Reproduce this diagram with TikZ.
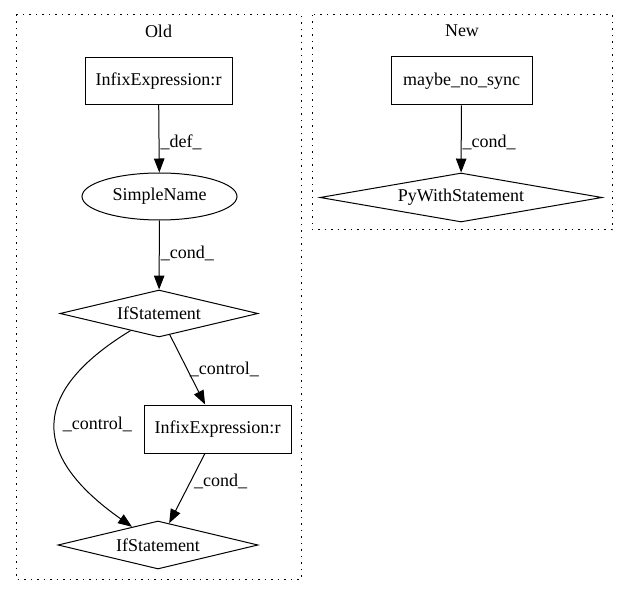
\documentclass[tikz,border=0pt]{standalone}
\usepackage{fontspec}
\setmainfont{Liberation Serif}
\usetikzlibrary{shapes.geometric,arrows.meta}
\begin{document}
\begin{tikzpicture}[x=1pt,y=-1pt,
  every node/.style={font=\fontsize{18}{20}\selectfont},
  box/.style={draw,line width=1pt,rectangle,inner sep=0pt,minimum height=47pt},
  oval/.style={draw,line width=1pt,ellipse,inner sep=0pt,minimum width=155pt,minimum height=47pt},
  dia/.style={draw,line width=1pt,diamond,inner sep=0pt,minimum height=47pt},
  cluster/.style={draw,line width=1pt,dash pattern=on 1.5pt off 5pt},
  edge/.style={draw,line width=1pt,-{Triangle[length=14pt,width=10.5pt]}},
  lbl/.style={anchor=west,inner sep=1pt}]
\useasboundingbox (0,0) rectangle (627,596);
% clusters
\draw[cluster] (16,15) rectangle (301,579);
\draw[cluster] (312,15) rectangle (612,230);
\node (oldlbl) at (158.5,31) {Old};
\node (newlbl) at (462,31) {New};
% nodes
\node[box,minimum width=147pt] (i1) at (158.5,81) {InfixExpression:r};
\node[oval] (sn) at (159.5,196.5) {SimpleName};
\node[dia,aspect=4.2,minimum width=198pt] (if1) at (159,313.5) {IfStatement};
\node[box,minimum width=147pt,minimum height=48pt] (i2) at (217.5,429) {InfixExpression:r};
\node[dia,aspect=4.17,minimum width=200pt,minimum height=48pt] (if2) at (158,545) {IfStatement};
\node[box,minimum width=141pt,minimum height=48pt] (m) at (461.5,81) {maybe\_no\_sync};
\node[dia,aspect=5.75,minimum width=282pt,minimum height=49pt] (pw) at (461,197.5) {PyWithStatement};
% edges
\draw[edge] (i1) -- (sn) node[lbl,pos=0.55] {\_def\_};
\draw[edge] (sn) -- (if1) node[lbl,pos=0.47] {\_cond\_};
\draw[edge] (if1) -- (i2) node[lbl,pos=0.5,xshift=1pt] {\_control\_};
\draw[edge] (if1.211) .. controls (30,392) and (30,455) .. (if2.145) node[lbl,pos=0.5,xshift=6pt] {\_control\_};
\draw[edge] (i2) -- (if2) node[lbl,pos=0.4,xshift=2pt] {\_cond\_};
\draw[edge] (m) -- (pw) node[lbl,pos=0.55] {\_cond\_};
\end{tikzpicture}
\end{document}
